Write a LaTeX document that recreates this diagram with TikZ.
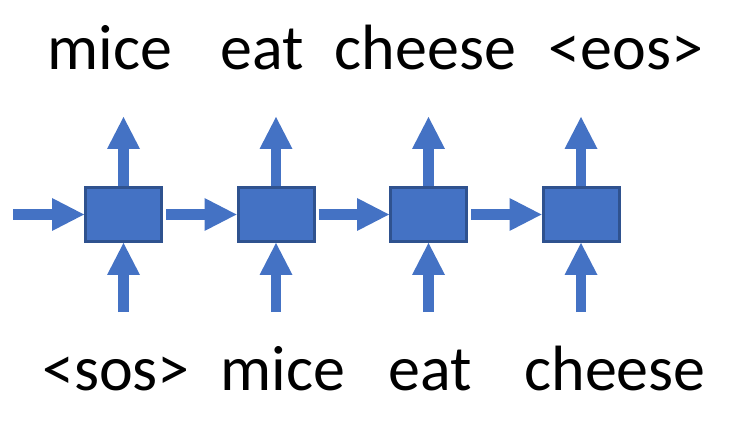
\documentclass[tikz,border=0pt]{standalone}
\usepackage{fontspec}
\setmainfont{Carlito}
\usetikzlibrary{arrows.meta}
\definecolor{boxfill}{HTML}{4472C4}
\definecolor{boxline}{HTML}{2F528F}
\begin{document}
\begin{tikzpicture}[x=0.75pt,y=-0.75pt,
  cell/.style={draw=boxline, fill=boxfill, line width=2.25pt, minimum width=57pt, minimum height=40.5pt, inner sep=0pt},
  flow/.style={draw=boxfill, line width=8pt, -{Triangle[length=24pt,width=24.75pt,line width=0pt]}},
  word/.style={font=\fontsize{48}{58}\selectfont, anchor=base, inner sep=0pt}]
\useasboundingbox (0,0) rectangle (752,427);
% cells
\node[cell] (c1) at (123.5,214.5) {};
\node[cell] (c2) at (276,214.5) {};
\node[cell] (c3) at (428.5,214.5) {};
\node[cell] (c4) at (581,214.5) {};
% top words
\node[word] (t1) at (110,70) {mice};
\node[word] (t2) at (262,70) {eat};
\node[word] (t3) at (425.5,70) {cheese};
\node[word] (t4) at (626,70) {<eos>};
% bottom words
\node[word] (b1) at (116,390) {<sos>};
\node[word] (b2) at (283,390) {mice};
\node[word] (b3) at (430,390) {eat};
\node[word] (b4) at (615,390) {cheese};
% free ends
\coordinate (in0) at (13,214.5);
\coordinate (o1) at (123.5,117);
\coordinate (o2) at (276,117);
\coordinate (o3) at (428.5,117);
\coordinate (o4) at (581,117);
\coordinate (i1) at (123.5,312);
\coordinate (i2) at (276,312);
\coordinate (i3) at (428.5,312);
\coordinate (i4) at (581,312);
% horizontal flow
\draw[flow] (in0) -- (c1.west);
\draw[flow] ([xshift=2.25pt]c1.east) -- (c2.west);
\draw[flow] ([xshift=2.25pt]c2.east) -- (c3.west);
\draw[flow] ([xshift=2.25pt]c3.east) -- (c4.west);
% outputs
\foreach \k in {1,2,3,4} {
  \draw[flow] (c\k.north) -- (o\k);
  \draw[flow] (i\k) -- (c\k.south);
}
\end{tikzpicture}
\end{document}
